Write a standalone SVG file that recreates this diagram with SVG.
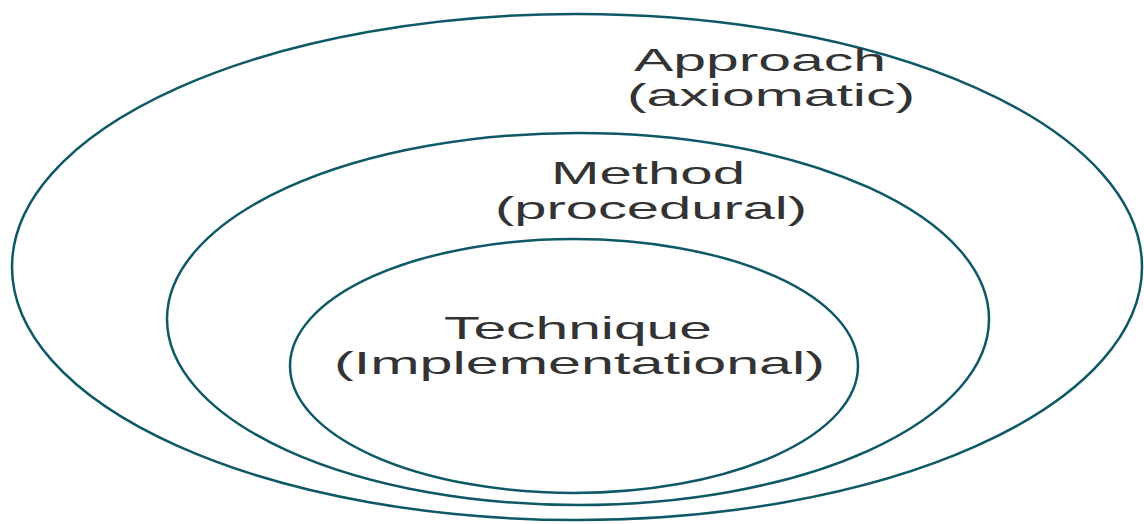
<svg xmlns="http://www.w3.org/2000/svg" width="1144" height="524" viewBox="0 0 1144 524">
<style>
.ring{fill:none;stroke:#0f5866;stroke-width:2.5}
.lbl{font-family:"Liberation Sans",Arial,sans-serif;font-size:32px;fill:#333333}
</style>
<rect width="1144" height="524" fill="#ffffff"/>
<g id="approach">
<ellipse class="ring" cx="577" cy="267" rx="565" ry="253"/>
<text class="lbl" x="634" y="71" textLength="252" lengthAdjust="spacingAndGlyphs">Approach</text>
<text class="lbl" x="627" y="106" textLength="288" lengthAdjust="spacingAndGlyphs">(axiomatic)</text>
</g>
<g id="method">
<ellipse class="ring" cx="578" cy="319" rx="411" ry="186"/>
<text class="lbl" x="551" y="184" textLength="194" lengthAdjust="spacingAndGlyphs">Method</text>
<text class="lbl" x="495" y="219" textLength="312" lengthAdjust="spacingAndGlyphs">(procedural)</text>
</g>
<g id="technique">
<ellipse class="ring" cx="574" cy="366" rx="284" ry="127"/>
<text class="lbl" x="444" y="339" textLength="268" lengthAdjust="spacingAndGlyphs">Technique</text>
<text class="lbl" x="334" y="374" textLength="491" lengthAdjust="spacingAndGlyphs">(Implementational)</text>
</g>
<g id="connectors"/>
</svg>
